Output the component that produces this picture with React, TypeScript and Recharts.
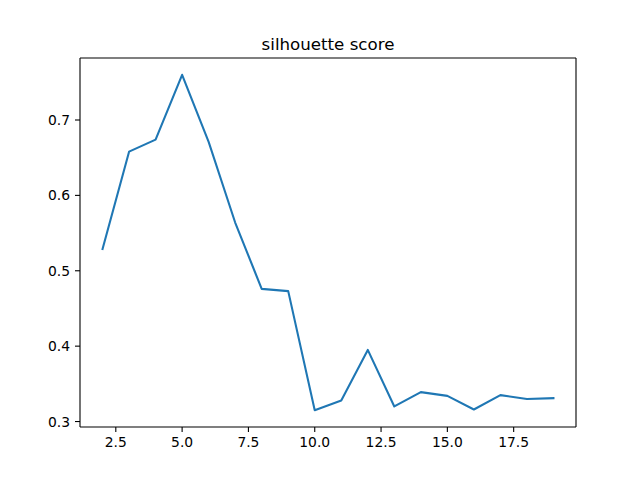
import React from "react";
import { LineChart, Line, XAxis, YAxis, ReferenceLine } from "recharts";

const ks = [2, 3, 4, 5, 6, 7, 8, 9, 10, 11, 12, 13, 14, 15, 16, 17, 18, 19];
const scores = [
  0.529, 0.658, 0.674, 0.760, 0.671, 0.564, 0.476, 0.473, 0.315, 0.328,
  0.395, 0.320, 0.339, 0.334, 0.316, 0.335, 0.330, 0.331,
];
const xTicks = [2.5, 5.0, 7.5, 10.0, 12.5, 15.0, 17.5];
const yTicks = [0.3, 0.4, 0.5, 0.6, 0.7];
const title = "silhouette score";

const data = ks.map((k, i) => ({ k, score: scores[i] }));

const pad = (lo: number, hi: number): [number, number] => {
  const m = (hi - lo) * 0.05;
  return [lo - m, hi + m];
};
const xDomain = pad(Math.min(...ks), Math.max(...ks));
const yDomain = pad(Math.min(...scores), Math.max(...scores));

const FONT = "DejaVu Sans, sans-serif";

const XTick = (props: any) => {
  const { x, y, payload } = props;
  return (
    <text x={x} y={y} dy="0.72em" textAnchor="middle" fontFamily={FONT} fontSize={13.89} fill="#000">
      {Number(payload.value).toFixed(1)}
    </text>
  );
};

const YTick = (props: any) => {
  const { x, y, payload } = props;
  return (
    <text x={x} y={y} dy="0.36em" textAnchor="end" fontFamily={FONT} fontSize={13.89} fill="#000">
      {Number(payload.value).toFixed(1)}
    </text>
  );
};

export default function App() {
  return (
    <div style={{ position: "absolute", left: 0, top: 0, width: 640, height: 480, background: "#fff" }}>
      <LineChart
        width={640}
        height={480}
        data={data}
        margin={{ top: 58, right: 64, bottom: 0, left: 0 }}
      >
        <XAxis
          dataKey="k"
          type="number"
          domain={xDomain}
          ticks={xTicks}
          height={53}
          tickSize={5}
          tickMargin={5}
          tick={<XTick />}
          axisLine={{ stroke: "#000", strokeWidth: 1.1 }}
          tickLine={{ stroke: "#000", strokeWidth: 1.1 }}
          allowDataOverflow
        />
        <YAxis
          type="number"
          domain={yDomain}
          ticks={yTicks}
          width={80}
          tickSize={5}
          tickMargin={5}
          tick={<YTick />}
          axisLine={{ stroke: "#000", strokeWidth: 1.1 }}
          tickLine={{ stroke: "#000", strokeWidth: 1.1 }}
          allowDataOverflow
        />
        <ReferenceLine y={yDomain[1]} stroke="#000" strokeWidth={1.1} ifOverflow="visible" />
        <ReferenceLine x={xDomain[1]} stroke="#000" strokeWidth={1.1} ifOverflow="visible" />
        <Line
          dataKey="score"
          type="linear"
          stroke="#1f77b4"
          strokeWidth={2.08}
          dot={false}
          activeDot={false}
          isAnimationActive={false}
          strokeLinejoin="round"
          strokeLinecap="square"
        />
      </LineChart>
      <svg
        width={640}
        height={480}
        style={{ position: "absolute", left: 0, top: 0, pointerEvents: "none" }}
      >
        <text x={328} y={49.5} textAnchor="middle" fontFamily={FONT} fontSize={16.67} fill="#000">
          {title}
        </text>
      </svg>
    </div>
  );
}
